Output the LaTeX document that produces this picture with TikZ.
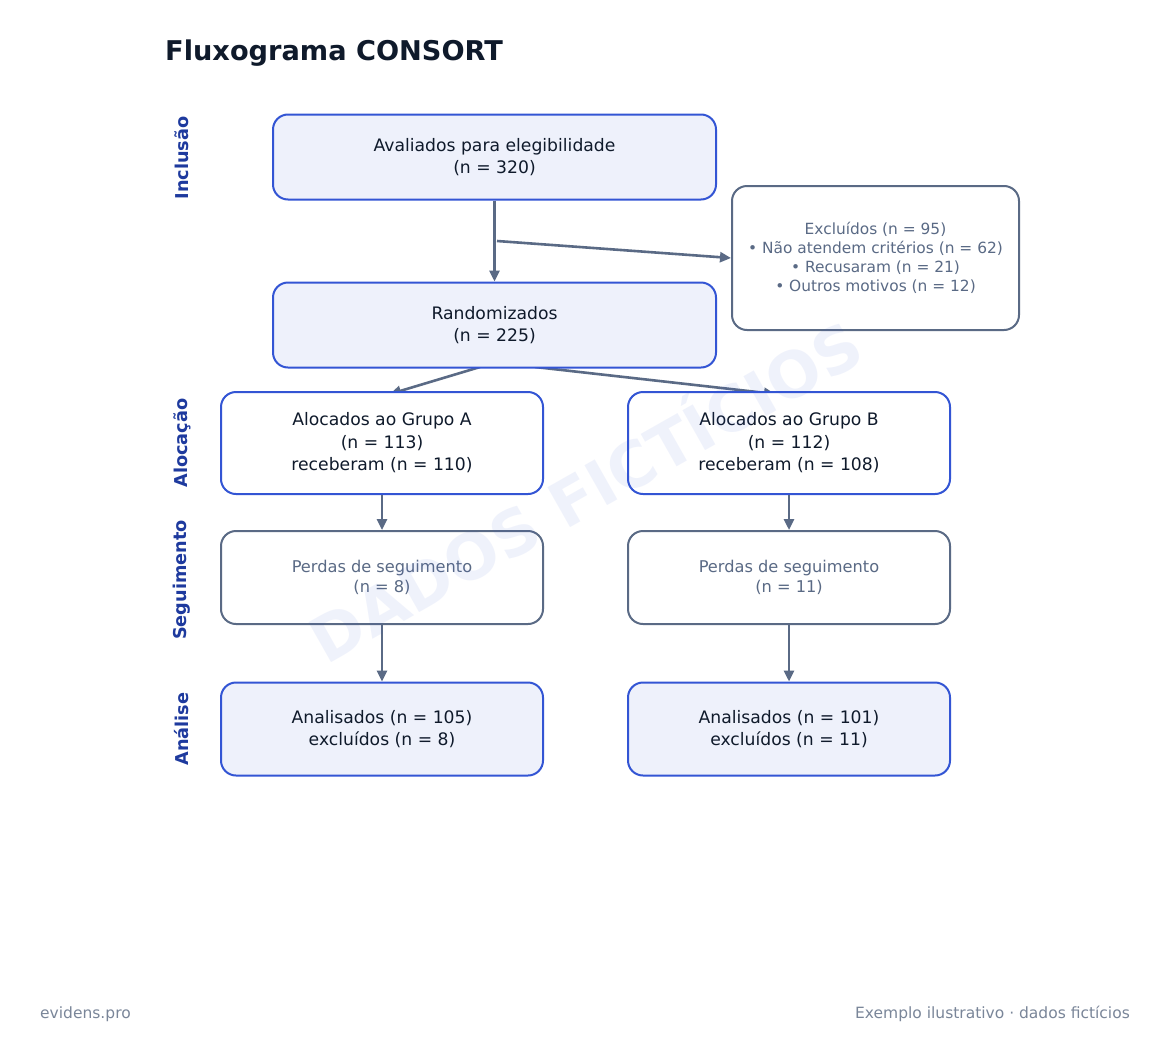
\documentclass[tikz,border=0pt]{standalone}
\usepackage{fontspec}
\setmainfont{DejaVu Sans}
\usetikzlibrary{arrows.meta,positioning}
\definecolor{bblue}{HTML}{3355D4}
\definecolor{bfill}{HTML}{EEF1FB}
\definecolor{bgray}{HTML}{5A6A85}
\definecolor{tdark}{HTML}{0F1A2B}
\definecolor{lblue}{HTML}{1E3A9E}
\definecolor{fgray}{HTML}{7A8699}
\tikzset{
  mainbox/.style={draw=bblue, fill=bfill, line width=2pt, rounded corners=15pt, align=center, text=tdark, font=\fontsize{17.2}{22.5}\selectfont, inner sep=0pt},
  grpbox/.style={draw=bblue, fill=white, line width=2pt, rounded corners=15pt, align=center, text=tdark, font=\fontsize{17.2}{22.5}\selectfont, inner sep=0pt},
  grybox/.style={draw=bgray, fill=white, line width=2pt, rounded corners=15pt, align=center, text=bgray, font=\fontsize{16.2}{19.5}\selectfont, inner sep=0pt},
  exbox/.style={draw=bgray, fill=white, line width=2pt, rounded corners=15pt, align=center, text=bgray, font=\fontsize{15.4}{19}\selectfont, inner sep=0pt},
  conn/.style={draw=bgray, line width=2.6pt, -{Triangle[length=11pt,width=10pt]}},
  phase/.style={rotate=90, text=lblue, font=\bfseries\fontsize{17.7}{20}\selectfont},
  foot/.style={text=fgray, font=\fontsize{15.5}{18}\selectfont, inner sep=0pt},
}
\begin{document}
\begin{tikzpicture}[x=1pt,y=-1pt]
\useasboundingbox[fill=white] (0,0) rectangle (1169,1060);

\node[anchor=base west, inner sep=0pt, text=tdark, font=\bfseries\fontsize{27.2}{30}\selectfont] (title) at (165,60) {Fluxograma CONSORT};

% phase labels
\node[phase] (l1) at (182,158) {Inclusão};
\node[phase] (l2) at (182,443) {Alocação};
\node[phase] (l3) at (182,580) {Seguimento};
\node[phase] (l4) at (182,729) {Análise};

% coordinates for arrow ends on group boxes
\coordinate (ta) at (390,394);
\coordinate (tb) at (775,394);
\coordinate (ra) at (480,367);
\coordinate (rb) at (535,367);
\coordinate (split) at (497,241);

% connectors drawn first (boxes cover ends)
\draw[conn] (ra) -- (ta);
\draw[conn] (rb) -- (tb);

% boxes
\node[mainbox, minimum width=443pt, minimum height=85pt] (aval) at (494.5,157) {Avaliados para elegibilidade\\(n = 320)};
\node[exbox, minimum width=287pt, minimum height=144pt] (excl) at (875.5,258) {Excluídos (n = 95)\\• Não atendem critérios (n = 62)\\• Recusaram (n = 21)\\• Outros motivos (n = 12)};
\node[mainbox, minimum width=443pt, minimum height=85pt] (rand) at (494.5,325) {Randomizados\\(n = 225)};
\node[grpbox, minimum width=322pt, minimum height=102pt] (ga) at (382,443) {Alocados ao Grupo A\\(n = 113)\\receberam (n = 110)};
\node[grpbox, minimum width=322pt, minimum height=102pt] (gb) at (789,443) {Alocados ao Grupo B\\(n = 112)\\receberam (n = 108)};
\node[grybox, minimum width=322pt, minimum height=93pt] (pa) at (382,577.5) {Perdas de seguimento\\(n = 8)};
\node[grybox, minimum width=322pt, minimum height=93pt] (pb) at (789,577.5) {Perdas de seguimento\\(n = 11)};
\node[mainbox, minimum width=322pt, minimum height=93pt] (aa) at (382,729) {Analisados (n = 105)\\excluídos (n = 8)};
\node[mainbox, minimum width=322pt, minimum height=93pt] (ab) at (789,729) {Analisados (n = 101)\\excluídos (n = 11)};

% connectors
\draw[conn] (aval.south) -- (rand.north);
\draw[conn] (split) -- (excl.west);
\draw[conn] (ga.south) -- (pa.north);
\draw[conn] (gb.south) -- (pb.north);
\draw[conn] (pa.south) -- (aa.north);
\draw[conn] (pb.south) -- (ab.north);

% watermark
\node[rotate=29.5, text=bblue, opacity=0.075, font=\bfseries\fontsize{63}{70}\selectfont] (wm) at (583,487) {DADOS FICTÍCIOS};

% footer
\node[foot, anchor=base west] (f1) at (40,1018) {evidens.pro};
\node[foot, anchor=base east] (f2) at (1130,1018) {Exemplo ilustrativo · dados fictícios};
\end{tikzpicture}
\end{document}
